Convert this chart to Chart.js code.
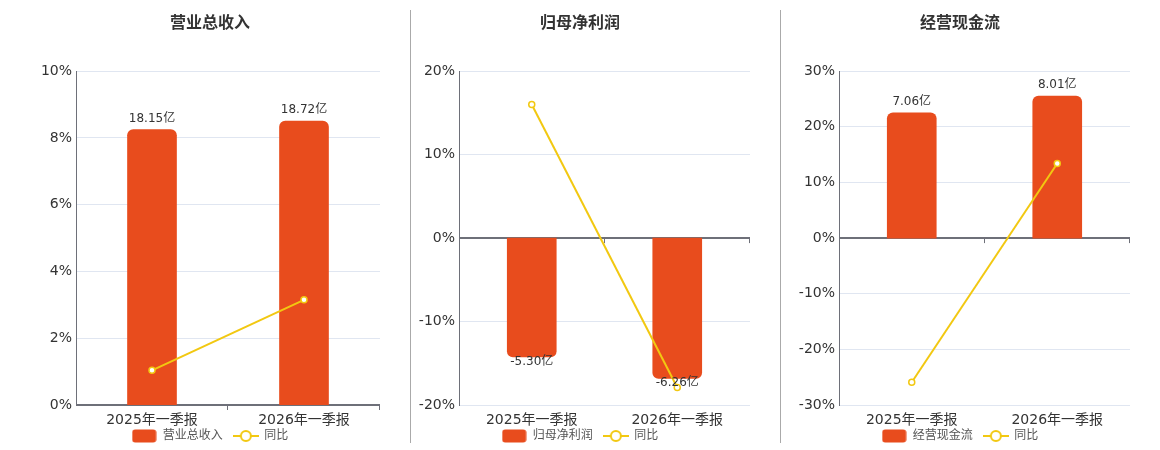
<!DOCTYPE html>
<html>
<head>
<meta charset="utf-8">
<script src="https://cdn.jsdelivr.net/npm/chart.js@4.4.1/dist/chart.umd.min.js"></script>
<style>
  body { margin: 0; background: #fff; }
  .wrap { position: relative; width: 1160px; height: 450px; }
  .wrap canvas { position: absolute; top: 0; }
  .sep { position: absolute; top: 10px; width: 1px; height: 433px; background: #aaa; }
</style>
</head>
<body>
<div class="wrap">
  <canvas id="c1" width="380" height="450" style="left:0px"></canvas>
  <canvas id="c2" width="340" height="450" style="left:410px"></canvas>
  <canvas id="c3" width="340" height="450" style="left:790px"></canvas>
  <div class="sep" style="left:410px"></div>
  <div class="sep" style="left:780px"></div>
</div>
<script>
var categories = ['2025年一季报', '2026年一季报'];

var revenueTitle = '营业总收入';
var revenueValues = [18.15, 18.72];
var revenueYoy = [1.04, 3.15];
var revenueTicks = [0, 10, 2];
var revenueBarRange = [0, 22];

var profitTitle = '归母净利润';
var profitValues = [-5.30, -6.26];
var profitYoy = [16.0, -17.9];
var profitTicks = [-20, 20, 10];
var profitBarRange = [-7.45, 7.45];

var cashTitle = '经营现金流';
var cashValues = [7.06, 8.01];
var cashYoy = [-25.9, 13.4];
var cashTicks = [-30, 30, 10];
var cashBarRange = [-9.41, 9.41];

var FONT = '"DejaVu Sans", "Noto Sans CJK SC", sans-serif';
var barColor = '#E84C1D';
var lineColor = '#F2C811';
var axisColor = '#6E7079';

// legend icons
function barIcon() {
    var c = document.createElement('canvas');
    c.width = 25; c.height = 14;
    var g = c.getContext('2d');
    g.fillStyle = barColor;
    g.beginPath();
    g.roundRect(0.5, 0.5, 24, 13, 3);
    g.fill();
    return c;
}
function lineIcon() {
    var c = document.createElement('canvas');
    c.width = 26; c.height = 14;
    var g = c.getContext('2d');
    g.strokeStyle = lineColor;
    g.lineWidth = 2;
    g.beginPath(); g.moveTo(0, 7); g.lineTo(26, 7); g.stroke();
    g.fillStyle = '#fff';
    g.beginPath(); g.arc(13, 7, 5, 0, Math.PI * 2); g.fill(); g.stroke();
    return c;
}

var valueLabels = {
    id: 'valueLabels',
    afterDatasetsDraw: function (chart) {
        var ctx = chart.ctx;
        var meta = chart.getDatasetMeta(0);
        var ds = chart.data.datasets[0];
        ctx.save();
        ctx.font = '12px ' + FONT;
        ctx.fillStyle = '#333';
        ctx.textAlign = 'center';
        ctx.textBaseline = 'middle';
        meta.data.forEach(function (bar, i) {
            var v = ds.data[i];
            var y = v >= 0 ? bar.y - 11 : bar.y + 5;
            ctx.fillText(v.toFixed(2) + '亿', bar.x, y);
        });
        // category boundary ticks on the zero line
        var ys = chart.scales.y, xs = chart.scales.x;
        var y0 = ys.getPixelForValue(0);
        var step = (xs.right - xs.left) / categories.length;
        ctx.strokeStyle = axisColor;
        ctx.lineWidth = 1;
        for (var k = 1; k <= categories.length; k++) {
            var x = Math.round(xs.left + k * step) - 0.5;
            ctx.beginPath(); ctx.moveTo(x, y0); ctx.lineTo(x, y0 + 5); ctx.stroke();
        }
        ctx.restore();
    }
};

function makeChart(id, title, values, yoy, ticks, barRange, yWidth, padLeft) {
    return new Chart(document.getElementById(id), {
        type: 'bar',
        data: {
            labels: categories,
            datasets: [{
                type: 'bar',
                label: title,
                data: values,
                yAxisID: 'y1',
                backgroundColor: barColor,
                borderRadius: 6,
                borderSkipped: 'start',
                barThickness: 49,
                order: 2
            }, {
                type: 'line',
                label: '同比',
                data: yoy,
                yAxisID: 'y',
                borderColor: lineColor,
                borderWidth: 2,
                pointRadius: 3,
                pointBorderWidth: 1.5,
                pointBackgroundColor: '#fff',
                pointBorderColor: lineColor,
                order: 1
            }]
        },
        options: {
            responsive: false,
            animation: false,
            layout: { autoPadding: false, padding: { left: padLeft, right: 0, top: 0, bottom: 5 } },
            plugins: {
                title: {
                    display: true,
                    text: title,
                    color: '#333',
                    font: { family: FONT, size: 16, weight: 'bold' },
                    padding: { top: 14, bottom: 38 }
                },
                legend: {
                    position: 'bottom',
                    maxHeight: 18,
                    labels: {
                        usePointStyle: true,
                        pointStyleWidth: 25,
                        boxHeight: 12,
                        padding: 3,
                        color: '#555',
                        font: { family: FONT, size: 12, lineHeight: 1 },
                        generateLabels: function (chart) {
                            return chart.data.datasets.map(function (d, i) {
                                return {
                                    text: i === 0 ? d.label + '  ' : d.label,
                                    pointStyle: i === 0 ? barIcon() : lineIcon(),
                                    datasetIndex: i,
                                    fontColor: '#555',
                                    lineWidth: 0,
                                    strokeStyle: 'transparent',
                                    fillStyle: 'transparent'
                                };
                            });
                        }
                    }
                },
                tooltip: { enabled: false }
            },
            scales: {
                x: {
                    grid: { display: false, tickLength: 0 },
                    border: { display: false },
                    ticks: { color: '#333', font: { family: FONT, size: 14, lineHeight: 1 }, padding: 8 },
                    afterFit: function (scale) { scale.height = 22; }
                },
                y: {
                    position: 'left',
                    min: ticks[0],
                    max: ticks[1],
                    ticks: {
                        stepSize: ticks[2],
                        color: '#333',
                        font: { family: FONT, size: 14 },
                        padding: 4,
                        callback: function (v) { return v + '%'; }
                    },
                    grid: {
                        drawTicks: false,
                        color: function (c) { return c.tick && c.tick.value === 0 ? axisColor : '#E0E6F1'; },
                        lineWidth: function (c) { return c.tick && c.tick.value === 0 ? 2 : 1; }
                    },
                    border: { display: true, color: axisColor, width: 1 },
                    afterFit: function (scale) { scale.width = yWidth; }
                },
                y1: {
                    display: false,
                    min: barRange[0],
                    max: barRange[1]
                }
            }
        },
        plugins: [valueLabels]
    });
}

makeChart('c1', revenueTitle, revenueValues, revenueYoy, revenueTicks, revenueBarRange, 36, 40);
makeChart('c2', profitTitle, profitValues, profitYoy, profitTicks, profitBarRange, 49, 0);
makeChart('c3', cashTitle, cashValues, cashYoy, cashTicks, cashBarRange, 49, 0);
</script>
</body>
</html>
